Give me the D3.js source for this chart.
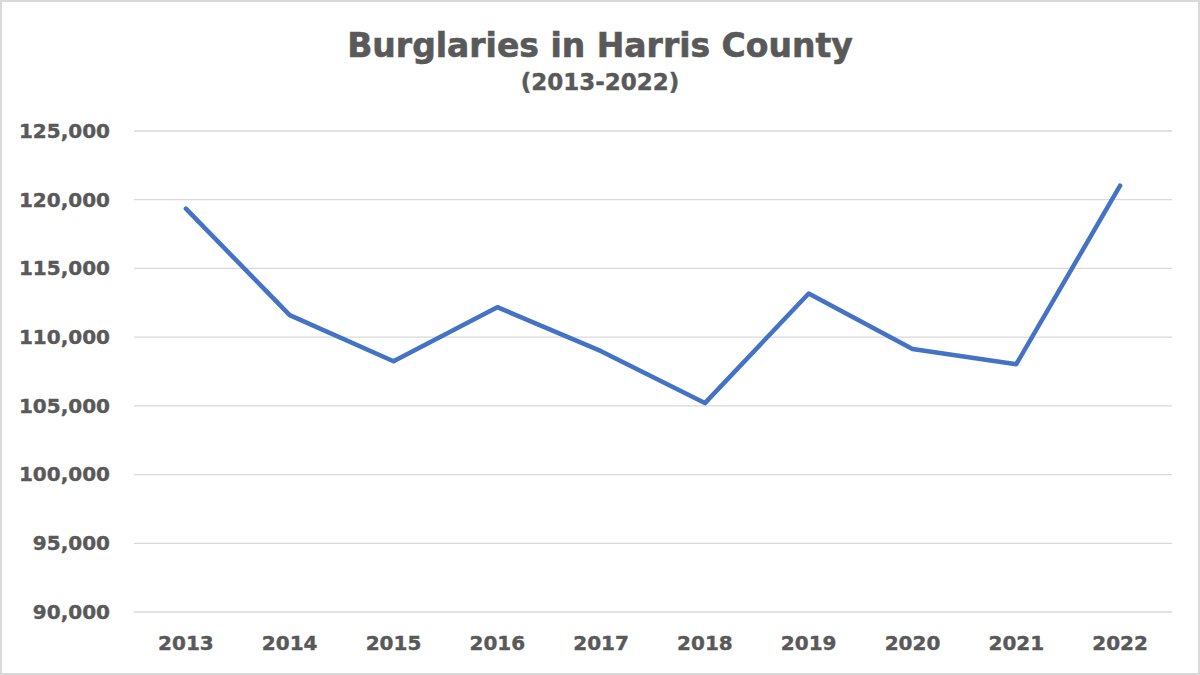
<!DOCTYPE html>
<html>
<head>
<meta charset="utf-8">
<script src="https://cdn.jsdelivr.net/npm/d3@7"></script>
<style>
  body { margin: 0; background: #fff; }
  svg { display: block; font-family: "DejaVu Sans", "Liberation Sans", Arial, sans-serif; }
</style>
</head>
<body>
<svg id="chart" width="1200" height="675"></svg>
<script>
var years = ["2013", "2014", "2015", "2016", "2017", "2018", "2019", "2020", "2021", "2022"];
var burglaries = [119350, 111600, 108250, 112180, 108980, 105200, 113180, 109130, 108030, 121020];
var yTicks = [90000, 95000, 100000, 105000, 110000, 115000, 120000, 125000];

var svg = d3.select("#chart");
var plotLeft = 134, plotRight = 1172, plotTop = 131, plotBottom = 612;
var textColor = "#595959";

// outer border
svg.append("rect")
  .attr("x", 1).attr("y", 1)
  .attr("width", 1198).attr("height", 673)
  .attr("fill", "#fff")
  .attr("stroke", "#d9d9d9")
  .attr("stroke-width", 2);

var x = d3.scaleBand().domain(years).range([plotLeft, plotRight]);
var y = d3.scaleLinear().domain([90000, 125000]).range([plotBottom, plotTop]);

// gridlines
svg.append("g").selectAll("line").data(yTicks).enter().append("line")
  .attr("x1", plotLeft)
  .attr("x2", plotRight)
  .attr("y1", function(d){ return y(d); })
  .attr("y2", function(d){ return y(d); })
  .attr("stroke", "#d9d9d9")
  .attr("stroke-width", 1.3);

// y axis labels
var yAxis = d3.axisLeft(y).tickValues(yTicks).tickSize(0).tickPadding(24)
  .tickFormat(d3.format(","));
var gy = svg.append("g").attr("transform", "translate(" + plotLeft + ",0)").call(yAxis);
gy.select(".domain").remove();
gy.selectAll("text")
  .attr("fill", textColor)
  .attr("stroke", textColor)
  .attr("stroke-width", 0.4)
  .attr("font-size", "20px")
  .attr("font-weight", "bold")
  .attr("font-family", "DejaVu Sans, sans-serif");

// x axis labels
var xAxis = d3.axisBottom(x).tickSize(0).tickPadding(24);
var gx = svg.append("g").attr("transform", "translate(0," + plotBottom + ")").call(xAxis);
gx.select(".domain").remove();
gx.selectAll("text")
  .attr("fill", textColor)
  .attr("stroke", textColor)
  .attr("stroke-width", 0.4)
  .attr("font-size", "20px")
  .attr("font-weight", "bold")
  .attr("font-family", "DejaVu Sans, sans-serif");

// line
var line = d3.line()
  .x(function(d, i){ return x(years[i]) + x.bandwidth() / 2; })
  .y(function(d){ return y(d); });

svg.append("path")
  .datum(burglaries)
  .attr("d", line)
  .attr("fill", "none")
  .attr("stroke", "#4472c4")
  .attr("stroke-width", 4.5)
  .attr("stroke-linejoin", "round")
  .attr("stroke-linecap", "round");

// titles
svg.append("text")
  .attr("x", 600).attr("y", 57)
  .attr("text-anchor", "middle")
  .attr("fill", textColor)
  .attr("stroke", textColor)
  .attr("stroke-width", 0.6)
  .attr("font-size", "33px")
  .attr("font-weight", "bold")
  .text("Burglaries in Harris County");

svg.append("text")
  .attr("x", 600).attr("y", 90)
  .attr("text-anchor", "middle")
  .attr("fill", textColor)
  .attr("stroke", textColor)
  .attr("stroke-width", 0.4)
  .attr("font-size", "23px")
  .attr("font-weight", "bold")
  .text("(2013-2022)");
</script>
</body>
</html>
